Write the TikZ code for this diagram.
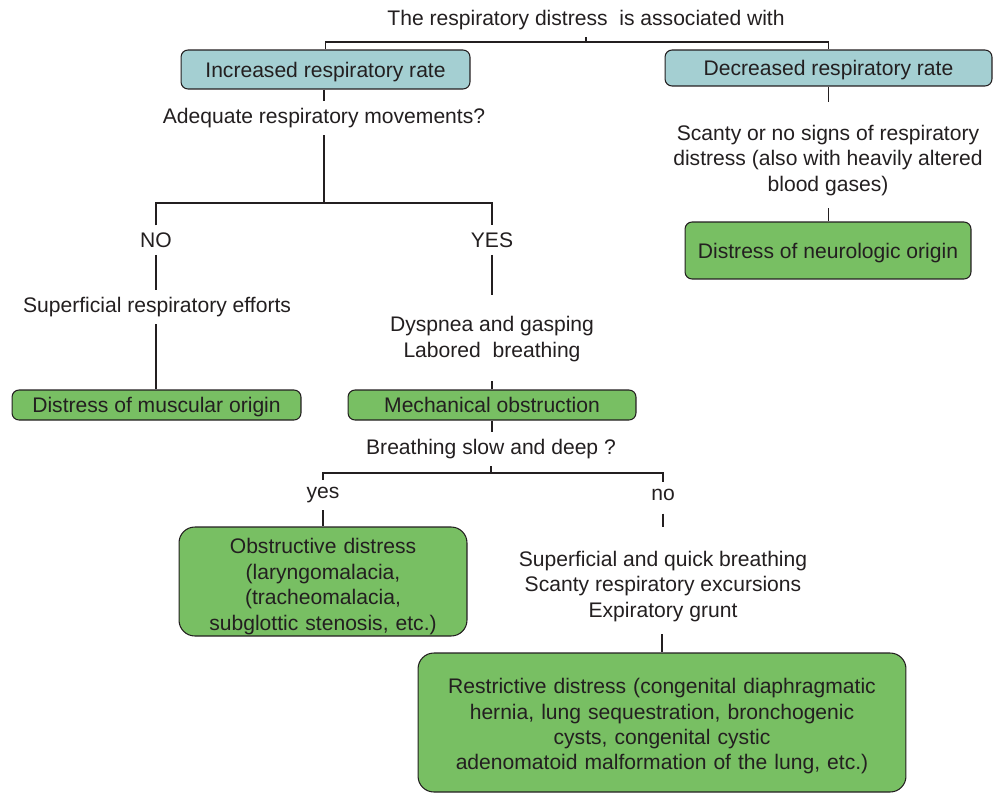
\documentclass[tikz,border=0pt]{standalone}
\usepackage{fontspec}
\setmainfont{Liberation Sans}
\definecolor{rateblue}{HTML}{A4CFD2}
\definecolor{origingreen}{HTML}{78BF63}
\definecolor{inkgray}{HTML}{231F20}

\begin{document}
\begin{tikzpicture}[x=0.02cm, y=-0.02cm,
    every node/.style={font=\fontsize{12}{14.5}\selectfont, text=inkgray, align=center, inner sep=4pt},
    note/.style={yshift=-1.2pt},
    ratebox/.style={draw=inkgray, fill=rateblue, rounded corners=4pt, line width=0.6pt, inner sep=2pt, text depth=0pt},
    originbox/.style={draw=inkgray, fill=origingreen, rounded corners=4pt, line width=0.6pt, inner sep=2pt, text depth=0pt},
    bigbox/.style={draw=inkgray, fill=origingreen, rounded corners=9pt, line width=0.6pt, inner sep=0pt},
    link/.style={draw=inkgray, line width=0.6pt}]
    \useasboundingbox (0, 0) rectangle (999, 794);

    % Erste Stufe: Atemfrequenz
    \node[note] (title) at (586, 18) {The respiratory distress~ is associated with};
    \node[ratebox, minimum width=5.78cm, minimum height=0.78cm] (incr) at (325.5, 69.5) {Increased respiratory rate};
    \node[ratebox, minimum width=6.54cm, minimum height=0.72cm] (decr) at (828.5, 68) {Decreased respiratory rate};
    \coordinate (fork1) at (586, 42);
    \draw[link] (title) -- (fork1);
    \draw[link] (incr) |- (fork1) -| (decr);

    % Linker Ast
    \node[note] (adequate) at (324, 116) {Adequate respiratory movements?};
    \coordinate (fork2) at (324, 203);
    \node[note] (no) at (156, 238) {NO};
    \node[note] (yes) at (492, 238) {YES};
    \draw[link] (incr.south -| adequate) -- (adequate);
    \draw[link] (adequate) -- (fork2);
    \draw[link] (no) |- (fork2) -| (yes);

    \node[note] (efforts) at (157, 305) {Superficial respiratory efforts};
    \node[originbox, minimum width=5.78cm, minimum height=0.6cm] (muscular) at (156.5, 405) {Distress of muscular origin};
    \draw[link] (no) -- (no |- efforts.north);
    \draw[link] (muscular.north -| no) -- (efforts.south -| no);

    \node[note] (dyspnea) at (492, 337) {Dyspnea and gasping\\Labored~ breathing};
    \node[originbox, minimum width=5.76cm, minimum height=0.6cm] (mechanical) at (492, 405) {Mechanical obstruction};
    \draw[link, shorten >=8pt] (yes) -- (dyspnea);
    \draw[link, shorten <=7pt] (dyspnea) -- (mechanical);

    % Mechanische Obstruktion
    \node[note] (slowdeep) at (491, 447) {Breathing slow and deep ?};
    \coordinate (fork3) at (491, 473);
    \node[note] (yeslow) at (323, 493) {yes};
    \node[note] (nolow) at (663, 493) {no};
    \draw[link] (mechanical) -- (mechanical |- slowdeep.north);
    \draw[link] (slowdeep) -- (fork3);
    \draw[link] (yeslow) |- (fork3) -| (nolow);

    \node[bigbox, text width=5.2cm, minimum width=5.76cm, minimum height=2.18cm] (obstructive) at (323, 581.5)
        {\rule{0pt}{14.5pt}Obstructive distress\\(laryngomalacia,\\(tracheomalacia,\\subglottic stenosis, etc.)};
    \draw[link] (yeslow) -- (obstructive);

    \node[note] (quick) at (663, 584) {Superficial and quick breathing\\Scanty respiratory excursions\\Expiratory grunt};
    \coordinate (tickend) at (663, 527);
    \node[bigbox, text width=9.2cm, minimum width=9.76cm, minimum height=2.78cm] (restrictive) at (662, 722.5)
        {\rule{0pt}{13pt}Restrictive distress (congenital diaphragmatic\\hernia, lung sequestration, bronchogenic\\cysts, congenital cystic\\adenomatoid malformation of the lung, etc.)};
    \draw[link, shorten <=3pt] (nolow) -- (tickend);
    \draw[link, shorten <=3pt] (quick.south -| restrictive) -- (restrictive);

    % Rechter Ast
    \node[note] (scanty) at (828, 158) {Scanty or no signs of respiratory\\distress (also with heavily altered\\blood gases)};
    \node[originbox, minimum width=5.72cm, minimum height=1.14cm] (neurologic) at (828, 250.5) {Distress of neurologic origin};
    \draw[link, shorten >=9pt] (decr) -- (decr |- scanty.north);
    \draw[link, shorten <=3pt] (decr |- scanty.south) -- (decr |- neurologic.north);
\end{tikzpicture}
\end{document}
